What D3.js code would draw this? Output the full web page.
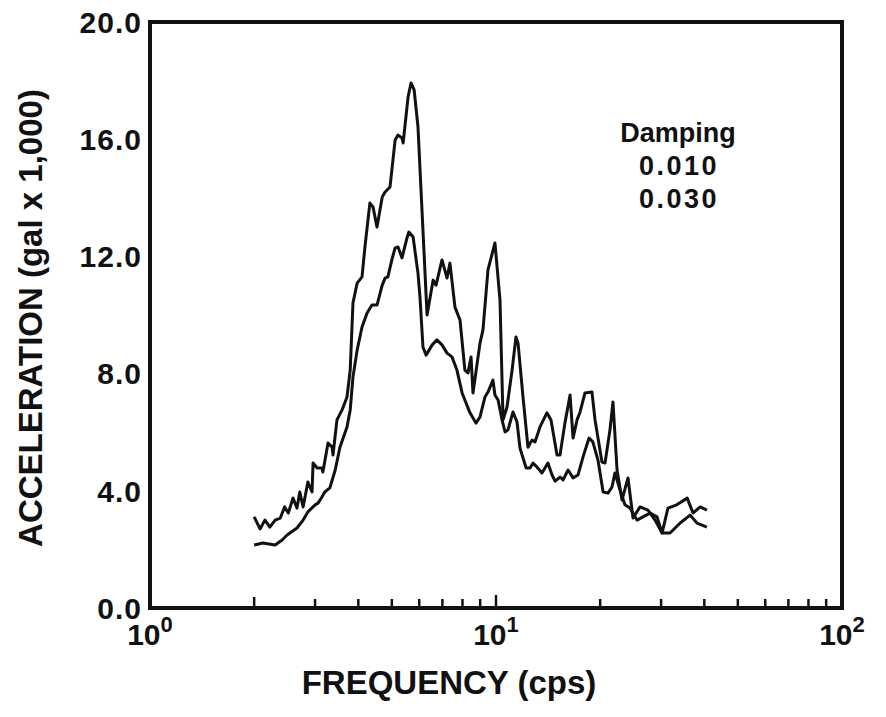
<!DOCTYPE html>
<html>
<head>
<meta charset="utf-8">
<script src="https://cdn.jsdelivr.net/npm/d3@7"></script>
<style>
  body { margin: 0; background: #fff; }
  text { font-family: "Liberation Sans", Arial, sans-serif; font-weight: bold; fill: #111; }
</style>
</head>
<body>
<svg id="chart" width="886" height="717"></svg>
<script>
// response spectra (cps, gal x 1000)
const freq010 = [2.0, 2.08, 2.15, 2.22, 2.30, 2.38, 2.45, 2.51, 2.59, 2.66, 2.71, 2.77, 2.86, 2.94, 2.96, 3.04,
  3.14, 3.16, 3.27, 3.36, 3.38, 3.47, 3.59, 3.71, 3.79, 3.86, 3.97, 4.10, 4.18, 4.32, 4.41, 4.53, 4.69, 4.78,
  4.94, 5.11, 5.21, 5.35, 5.39, 5.57, 5.68, 5.80, 5.95, 6.32, 6.58, 6.71, 6.98, 7.22, 7.36, 7.61, 7.87, 8.13,
  8.30, 8.47, 8.58, 8.99, 9.17, 9.48, 9.93, 10.27, 10.48, 10.76, 11.13, 11.42, 11.58, 11.97, 12.37, 12.70,
  12.97, 13.40, 14.03, 14.42, 15.01, 15.31, 15.82, 16.37, 16.70, 17.15, 17.50, 18.08, 18.94, 19.33, 20.24,
  20.66, 21.35, 21.78, 22.38, 23.13, 24.07, 24.89, 26.07, 27.49, 28.82, 30.2, 31.4, 33.3, 35.7, 37.1, 38.9, 40.7];
const acc010 = [3.11, 2.70, 3.00, 2.76, 3.00, 3.07, 3.45, 3.24, 3.75, 3.41, 3.96, 3.45, 4.30, 3.96, 4.95, 4.78,
  4.78, 4.64, 5.63, 5.49, 5.22, 6.42, 6.76, 7.20, 8.12, 10.41, 11.09, 11.30, 12.32, 13.82, 13.69, 13.00, 14.03,
  14.20, 14.37, 15.97, 16.14, 16.04, 15.87, 17.44, 17.92, 17.68, 16.42, 10.00, 11.19, 11.02, 11.88, 11.26,
  11.77, 10.27, 9.83, 8.12, 8.02, 8.57, 7.34, 9.04, 9.49, 11.54, 12.46, 10.51, 6.42, 6.86, 8.12, 9.25, 9.04,
  7.20, 5.49, 5.73, 5.67, 6.18, 6.66, 6.42, 5.22, 5.22, 6.31, 7.27, 5.80, 6.42, 6.69, 7.34, 7.37, 6.42, 4.98,
  4.95, 6.08, 7.03, 4.71, 3.69, 4.44, 3.07, 3.45, 3.34, 3.00, 2.56, 3.41, 3.52, 3.75, 3.24, 3.45, 3.34];

const freq030 = [2.0, 2.12, 2.30, 2.41, 2.49, 2.66, 2.77, 2.86, 3.00, 3.06, 3.14, 3.20, 3.31, 3.43, 3.54, 3.71,
  3.79, 3.86, 3.97, 4.10, 4.24, 4.38, 4.53, 4.69, 4.78, 4.87, 5.00, 5.11, 5.21, 5.35, 5.53, 5.60, 5.76, 5.95,
  6.03, 6.15, 6.28, 6.54, 6.75, 6.98, 7.22, 7.46, 7.71, 7.98, 8.41, 8.75, 8.99, 9.29, 9.48, 9.80, 9.93, 10.14,
  10.41, 10.62, 10.83, 11.20, 11.50, 11.73, 12.22, 12.54, 12.80, 13.13, 13.58, 14.13, 14.52, 14.82, 15.31,
  15.63, 16.15, 16.70, 17.26, 17.84, 18.57, 19.05, 19.71, 20.40, 21.07, 21.64, 22.07, 22.82, 23.59, 24.38,
  25.56, 26.60, 27.88, 29.20, 30.2, 31.84, 34.06, 36.4, 38.1, 40.7];
const acc030 = [2.15, 2.22, 2.15, 2.32, 2.49, 2.73, 3.00, 3.28, 3.52, 3.58, 3.79, 3.96, 4.10, 4.71, 5.49, 6.18,
  6.76, 7.88, 8.81, 9.59, 10.07, 10.34, 10.34, 11.02, 11.26, 11.30, 11.88, 12.29, 12.32, 11.95, 12.63, 12.83,
  12.66, 11.43, 10.61, 8.91, 8.63, 8.98, 9.15, 8.98, 8.70, 8.57, 8.12, 7.34, 6.66, 6.31, 6.52, 7.20, 7.37,
  7.78, 7.27, 7.10, 6.42, 6.01, 6.08, 6.69, 6.35, 5.46, 4.78, 4.78, 4.95, 4.81, 4.61, 4.95, 4.54, 4.33, 4.47,
  4.37, 4.71, 4.44, 4.54, 5.15, 5.80, 5.67, 5.05, 3.96, 3.92, 4.13, 4.61, 4.03, 3.52, 3.41, 3.00, 3.11, 3.24,
  3.11, 2.56, 2.56, 2.90, 3.17, 2.90, 2.76];

const yTicks = [0, 4, 8, 12, 16, 20];
const xDecades = [0, 1, 2];
const legendLines = ["Damping", "0.010", "0.030"];

const LEFT = 150, RIGHT = 842, TOP = 22, BOTTOM = 608;

const svg = d3.select("#chart");

const x = d3.scaleLog().domain([1, 100]).range([LEFT, RIGHT]);
const y = d3.scaleLinear().domain([0, 20]).range([BOTTOM, TOP]);

// minor ticks inside the bottom axis
const minor = [];
[1, 10].forEach(base => { for (let k = 2; k <= 9; k++) minor.push(base * k); });
svg.append("g").selectAll("line")
  .data(minor)
  .join("line")
  .attr("x1", d => x(d)).attr("x2", d => x(d))
  .attr("y1", BOTTOM).attr("y2", d => BOTTOM - (d === 2 ? 11 : 9))
  .attr("stroke", "#111").attr("stroke-width", 2.5);

svg.append("line")
  .attr("x1", x(10)).attr("x2", x(10))
  .attr("y1", BOTTOM).attr("y2", BOTTOM - 13)
  .attr("stroke", "#111").attr("stroke-width", 2.5);

// frame
svg.append("path")
  .attr("d", `M${LEFT},${BOTTOM}H${RIGHT}V${TOP}H${LEFT}Z`)
  .attr("fill", "none")
  .attr("stroke", "#111")
  .attr("stroke-width", 4);

// y tick labels
svg.append("g").selectAll("text")
  .data(yTicks)
  .join("text")
  .attr("x", LEFT - 8)
  .attr("y", d => y(d))
  .attr("dy", "0.36em")
  .attr("text-anchor", "end")
  .attr("font-size", 30)
  .attr("letter-spacing", 1)
  .text(d => d.toFixed(1));

// x decade labels 10^n
const xl = svg.append("g").selectAll("text")
  .data(xDecades)
  .join("text")
  .attr("x", d => x(Math.pow(10, d)))
  .attr("y", 645)
  .attr("text-anchor", "middle")
  .attr("font-size", 30);
xl.append("tspan").text("10");
xl.append("tspan").attr("dy", -13).attr("font-size", 22).text(d => d);

// axis titles
svg.append("text")
  .attr("x", 449)
  .attr("y", 694)
  .attr("text-anchor", "middle")
  .attr("font-size", 33)
  .text("FREQUENCY (cps)");

svg.append("text")
  .attr("transform", "translate(42,318) rotate(-90)")
  .attr("text-anchor", "middle")
  .attr("font-size", 33)
  .text("ACCELERATION (gal x 1,000)");

// curves
const line = d3.line()
  .x(d => x(d[0]))
  .y(d => y(d[1]));

const series = [d3.zip(freq010, acc010), d3.zip(freq030, acc030)];
svg.append("g").selectAll("path")
  .data(series)
  .join("path")
  .attr("d", line)
  .attr("fill", "none")
  .attr("stroke", "#111")
  .attr("stroke-width", 3)
  .attr("stroke-linejoin", "round");

// legend text
svg.append("g").selectAll("text")
  .data(legendLines)
  .join("text")
  .attr("x", (d, i) => i === 0 ? 678 : 679)
  .attr("y", (d, i) => 142 + i * 33)
  .attr("text-anchor", "middle")
  .attr("font-size", 27)
  .attr("letter-spacing", (d, i) => i === 0 ? 0 : 2.5)
  .text(d => d);
</script>
</body>
</html>
